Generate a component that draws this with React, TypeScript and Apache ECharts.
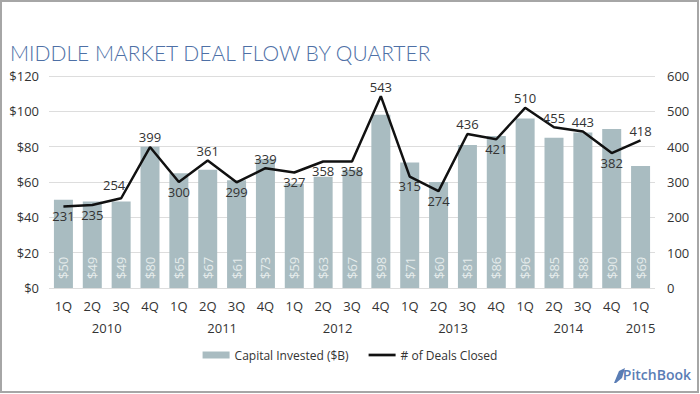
import React, { useEffect, useRef } from "react";
import * as echarts from "echarts";

const quarters = ["1Q","2Q","3Q","4Q","1Q","2Q","3Q","4Q","1Q","2Q","3Q","4Q","1Q","2Q","3Q","4Q","1Q","2Q","3Q","4Q","1Q"];
const yearLabels: [number, string][] = [[1.5,"2010"],[5.5,"2011"],[9.5,"2012"],[13.5,"2013"],[17.5,"2014"],[20,"2015"]];
const capitalInvested = [50,49,49,80,65,67,61,73,59,63,67,98,71,60,81,86,96,85,88,90,69];
const dealsClosed = [231,235,254,399,300,361,299,339,327,358,358,543,315,274,436,421,510,455,443,382,418];
const labelBelow = [0,1,4,6,8,9,10,12,13,15,19];
const labelShift: Record<number, [number, number]> = { 2: [-7, -4] };

const FONT = "Open Sans";

export default function App() {
  const ref = useRef<HTMLDivElement>(null);
  useEffect(() => {
    document.body.style.margin = "0";
    const chart = echarts.init(ref.current!, null, { renderer: "svg" });
    chart.setOption({
      animation: false,
      backgroundColor: "#ffffff",
      textStyle: { fontFamily: FONT },
      title: {
        text: "MIDDLE MARKET DEAL FLOW BY QUARTER",
        left: 5,
        top: 37,
        textStyle: { fontFamily: "Lato", fontWeight: 300, fontSize: 21, color: "#4e70a6" },
      },
      legend: {
        left: "center",
        top: 344,
        itemWidth: 27,
        itemHeight: 7,
        itemGap: 20,
        textStyle: { fontFamily: FONT, fontSize: 12, color: "#333" },
        data: [
          { name: "Capital Invested ($B)", icon: "rect" },
          { name: "# of Deals Closed", icon: "path://M0,0H40V4H0Z" },
        ],
      },
      grid: { left: 49, right: 45, top: 76, bottom: 106 },
      xAxis: [
        {
          type: "category",
          data: quarters,
          axisLine: { show: false },
          axisTick: { show: false },
          axisLabel: { margin: 11, fontSize: 13, color: "#333", fontFamily: FONT },
        },
        {
          type: "value",
          position: "bottom",
          min: -0.5,
          max: 20.5,
          interval: 0.5,
          axisLine: { show: false },
          axisTick: { show: false },
          splitLine: { show: false },
          axisLabel: {
            margin: 33,
            fontSize: 13,
            color: "#333",
            fontFamily: FONT,
            showMinLabel: true,
            showMaxLabel: true,
            formatter: (v: number) => {
              const f = yearLabels.find((y) => Math.abs(y[0] - v) < 1e-6);
              return f ? f[1] : "";
            },
          },
        },
      ],
      yAxis: [
        {
          type: "value",
          min: 0,
          max: 120,
          interval: 20,
          axisLine: { show: false },
          axisTick: { show: false },
          axisLabel: { formatter: "${value}", fontSize: 13, color: "#333", margin: 10, fontFamily: FONT },
          splitLine: { lineStyle: { color: "#dddddd", width: 1 } },
        },
        {
          type: "value",
          min: 0,
          max: 600,
          interval: 100,
          axisLine: { show: false },
          axisTick: { show: false },
          axisLabel: { fontSize: 13, color: "#333", margin: 12, fontFamily: FONT },
          splitLine: { show: false },
        },
      ],
      series: [
        {
          name: "Capital Invested ($B)",
          type: "bar",
          data: capitalInvested,
          barWidth: 19,
          itemStyle: { color: "#a9bcc1" },
          label: {
            show: true,
            position: "insideBottom",
            rotate: 90,
            align: "left",
            verticalAlign: "middle",
            distance: 9,
            formatter: "${c}",
            color: "#e6ecec",
            fontSize: 13,
            fontFamily: FONT,
          },
        },
        {
          name: "# of Deals Closed",
          type: "line",
          yAxisIndex: 1,
          data: dealsClosed.map((v, i) => ({
            value: v,
            label: {
              position: labelBelow.includes(i) ? "bottom" : "top",
              offset: labelShift[i] || [0, 0],
            },
          })),
          symbol: "circle",
          symbolSize: 0.1,
          showSymbol: true,
          lineStyle: { color: "#111", width: 2.5 },
          itemStyle: { color: "#111" },
          label: { show: true, fontSize: 13, color: "#333", distance: 3, fontFamily: FONT },
        },
      ],
      graphic: [
        {
          type: "rect",
          shape: { x: 1, y: 1, width: 697, height: 391 },
          style: { fill: "none", stroke: "#a6a6a6", lineWidth: 2 },
          silent: true,
        },
        {
          type: "polygon",
          shape: { points: [[614, 383], [619, 371], [625, 368], [622, 378], [616, 383]] },
          style: { fill: "#5a7db5" },
        },
        {
          type: "text",
          right: 9,
          top: 367,
          style: { text: "PitchBook", fill: "#5a7db5", font: "600 14px 'Open Sans'" },
        },
      ],
    });
    return () => chart.dispose();
  }, []);
  return <div ref={ref} style={{ width: 700, height: 394 }} />;
}
